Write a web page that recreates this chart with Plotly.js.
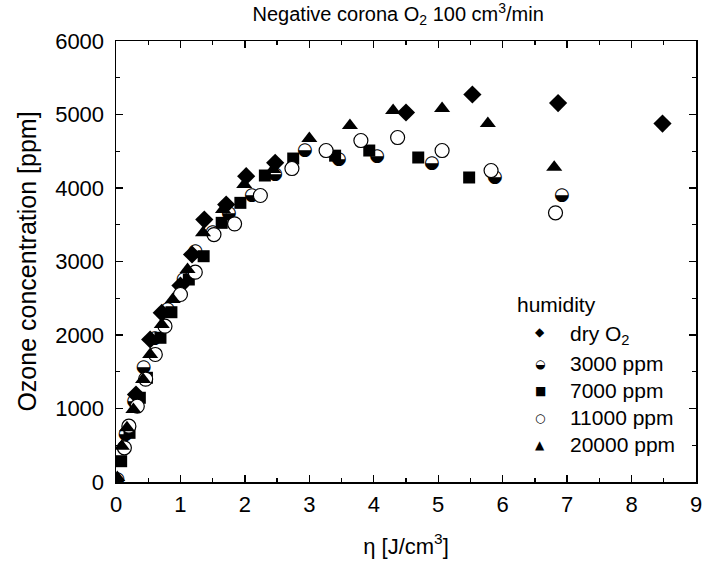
<!DOCTYPE html>
<html>
<head>
<meta charset="utf-8">
<script src="https://cdn.plot.ly/plotly-3.0.1.min.js"></script>
<style>html,body{margin:0;padding:0;background:#fff;}#chart{width:706px;height:568px;}</style>
</head>
<body>
<div id="chart"></div>
<script>
// ---- data ----
var dryX = [0.31, 0.53, 0.71, 1.0, 1.18, 1.37, 1.71, 2.02, 2.47, 4.5, 5.53, 6.86, 8.48];
var dryY = [1190, 1939, 2302, 2673, 3095, 3571, 3775, 4161, 4343, 5027, 5272, 5156, 4877];

var h3000X = [0.02, 0.15, 0.28, 0.43, 0.6, 0.8, 1.05, 1.23, 1.5, 1.75, 2.11, 2.47, 2.93, 3.46, 4.05, 4.9, 5.88, 6.92];
var h3000Y = [30, 650, 1100, 1554, 1950, 2350, 2750, 3140, 3400, 3650, 3898, 4184, 4510, 4388, 4429, 4333, 4143, 3898];

var h7000X = [0.08, 0.21, 0.37, 0.48, 0.69, 0.86, 1.13, 1.36, 1.64, 1.93, 2.31, 2.75, 3.4, 3.93, 4.69, 5.48];
var h7000Y = [283, 669, 1146, 1418, 1962, 2310, 2755, 3072, 3526, 3798, 4170, 4401, 4440, 4510, 4415, 4143];

var h11000X = [0.13, 0.2, 0.33, 0.46, 0.61, 0.76, 1.0, 1.23, 1.52, 1.84, 2.24, 2.73, 3.26, 3.8, 4.37, 5.06, 5.82, 6.82];
var h11000Y = [465, 759, 1031, 1400, 1735, 2120, 2551, 2855, 3367, 3512, 3898, 4265, 4510, 4646, 4687, 4510, 4238, 3662];

var h20000X = [0.02, 0.09, 0.17, 0.27, 0.42, 0.53, 0.71, 0.88, 1.11, 1.35, 1.66, 1.99, 2.44, 3.0, 3.63, 4.3, 5.06, 5.77, 6.8];
var h20000Y = [60, 487, 737, 986, 1395, 1735, 2143, 2483, 2891, 3390, 3707, 4048, 4252, 4673, 4850, 5054, 5082, 4877, 4283];

var legendTitle = 'humidity';
var legendNames = ['dry O<sub>2</sub>', '3000 ppm', '7000 ppm', '11000 ppm', '20000 ppm'];
var legendGlyphs = ['\u25C6', '\u25D2', '\u25A0', '\u25CB', '\u25B2'];

var titleText = 'Negative corona O<sub>2</sub> 100 cm<sup>3</sup>/min';
var xTitle = '\u03B7 [J/cm<sup>3</sup>]';
var yTitle = 'Ozone concentration [ppm]';

// ---- traces ----
var traces = [
  {x: dryX, y: dryY, mode: 'markers', type: 'scatter',
   marker: {symbol: 'diamond', size: 14, color: '#000', line: {width: 0}}},
  {x: h3000X, y: h3000Y, mode: 'text', type: 'scatter',
   text: h3000X.map(function(){return '\u25D2';}),
   textposition: 'middle center',
   textfont: {family: 'DejaVu Sans', size: 18, color: '#000'}},
  {x: h7000X, y: h7000Y, mode: 'markers', type: 'scatter',
   marker: {symbol: 'square', size: 12, color: '#000', line: {width: 0}}},
  {x: h11000X, y: h11000Y, mode: 'markers', type: 'scatter',
   marker: {symbol: 'circle', size: 14, color: '#fff', line: {width: 1.2, color: '#000'}}},
  {x: h20000X, y: h20000Y, mode: 'markers', type: 'scatter',
   marker: {symbol: 'triangle-up', size: 14, color: '#000', line: {width: 0}}}
];

// ---- legend drawn as annotations ----
var L = 116, R = 696, T = 41, B = 482.5;
function px(p){ return (p - L) / (R - L); }
function py(p){ return (B - p) / (B - T); }
var annots = [{
  xref: 'paper', yref: 'paper', x: px(515), y: py(305), xanchor: 'left', yanchor: 'middle',
  text: legendTitle, showarrow: false, font: {family: 'Liberation Sans, Arial', size: 21, color: '#000'}
}];
var rowsY = [332, 364, 391, 418, 445];
for (var i = 0; i < legendNames.length; i++) {
  annots.push({xref: 'paper', yref: 'paper', x: px(540), y: py(rowsY[i]), xanchor: 'center', yanchor: 'middle',
    text: legendGlyphs[i], showarrow: false, font: {family: 'DejaVu Sans', size: 12, color: '#000'}});
  annots.push({xref: 'paper', yref: 'paper', x: px(568), y: py(rowsY[i] + (i === 0 ? 3 : 0)), xanchor: 'left', yanchor: 'middle',
    text: legendNames[i], showarrow: false, font: {family: 'Liberation Sans, Arial', size: 21, color: '#000'}});
}

var axisCommon = {
  showgrid: false, zeroline: false, showline: true, linecolor: '#000', linewidth: 1.5,
  mirror: 'ticks', ticks: 'inside', ticklen: 7, tickwidth: 1.3, tickcolor: '#000',
  tickfont: {family: 'Liberation Sans, Arial', size: 22, color: '#000'}
};

var layout = {
  width: 706, height: 568,
  margin: {l: L, r: 706 - R, t: T, b: 568 - B},
  paper_bgcolor: '#fff', plot_bgcolor: '#fff',
  showlegend: false,
  font: {family: 'Liberation Sans, Arial', color: '#000'},
  title: {text: titleText, font: {size: 20, color: '#000'}, x: 0.564, xanchor: 'center', xref: 'container',
          y: 0.975, yanchor: 'middle', yref: 'container'},
  xaxis: Object.assign({}, axisCommon, {
    range: [0, 9], dtick: 1, tick0: 0,
    minor: {dtick: 0.5, ticks: 'inside', ticklen: 4, tickwidth: 1.3, tickcolor: '#000'},
    ticklabelstandoff: 2,
    title: {text: xTitle, font: {family: 'Liberation Sans, Arial', size: 22, color: '#000'}, standoff: 22}
  }),
  yaxis: Object.assign({}, axisCommon, {
    range: [0, 6000], dtick: 1000, tick0: 0,
    minor: {dtick: 500, ticks: 'inside', ticklen: 4, tickwidth: 1.3, tickcolor: '#000'},
    ticklabelstandoff: 6,
    title: {text: yTitle, font: {family: 'Liberation Sans, Arial', size: 25, color: '#000'}, standoff: 11}
  }),
  annotations: annots
};

Plotly.newPlot('chart', traces, layout, {staticPlot: true, displayModeBar: false});
</script>
</body>
</html>
